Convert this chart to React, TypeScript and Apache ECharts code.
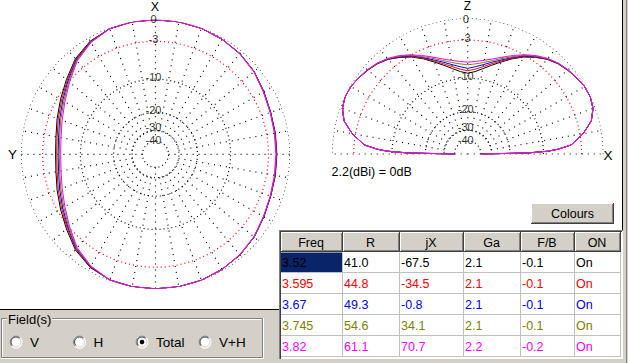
import React, { useEffect, useRef } from "react";
import * as echarts from "echarts";

// ---------- data ----------
const FREQS = ["3.52", "3.595", "3.67", "3.745", "3.82"];
const R_VALUES = [41.0, 44.8, 49.3, 54.6, 61.1];
const JX_VALUES = [-67.5, -34.5, -0.8, 34.1, 70.7];
const GA_VALUES = [2.1, 2.1, 2.1, 2.1, 2.2];
const FB_VALUES = [-0.1, -0.1, -0.1, -0.1, -0.2];
const ON_VALUES = ["On", "On", "On", "On", "On"];
const SERIES_COLORS = ["#000000", "#ff0000", "#0000ff", "#808000", "#ff00ff"];
const TABLE_HEADERS = ["Freq", "R", "jX", "Ga", "F/B", "ON"];

const RING_DB = [0, -3, -10, -20, -30, -40];
const RING_LABELS = ["0", "-3", "-10", "-20", "-30", "-40"];

// azimuth angles (deg, counter-clockwise from X at top)
const AZ_ANGLES = [0, 10, 20, 30, 40, 50, 60, 70, 80, 90, 100, 110, 120, 130, 140, 150, 160, 170, 180,
  190, 200, 210, 220, 230, 240, 250, 260, 270, 280, 290, 300, 310, 320, 330, 340, 350];
const AZ_352 = [0, 0, -0.1, -0.5, -1.3, -2.5, -3.5, -4.3, -4.9, -5.1, -4.9, -4.3, -3.5, -2.5, -1.3, -0.5, -0.1, 0, 0,
  0, -0.05, -0.2, -0.4, -0.75, -1.25, -1.6, -1.75, -1.8, -1.75, -1.6, -1.25, -0.75, -0.4, -0.2, -0.05, 0];
const AZ_3595 = [0, 0, -0.1, -0.55, -1.4, -2.65, -3.7, -4.5, -5.1, -5.3, -5.1, -4.5, -3.7, -2.65, -1.4, -0.55, -0.1, 0, 0,
  0, -0.05, -0.2, -0.4, -0.75, -1.25, -1.6, -1.7, -1.75, -1.7, -1.6, -1.25, -0.75, -0.4, -0.2, -0.05, 0];
const AZ_367 = [0, 0, -0.1, -0.6, -1.5, -2.8, -3.9, -4.75, -5.35, -5.55, -5.35, -4.75, -3.9, -2.8, -1.5, -0.6, -0.1, 0, 0,
  0, -0.05, -0.2, -0.4, -0.75, -1.25, -1.6, -1.75, -1.8, -1.75, -1.6, -1.25, -0.75, -0.4, -0.2, -0.05, 0];
const AZ_3745 = [0, 0, -0.1, -0.65, -1.6, -2.95, -4.1, -4.95, -5.55, -5.75, -5.55, -4.95, -4.1, -2.95, -1.6, -0.65, -0.1, 0, 0,
  0, -0.05, -0.2, -0.4, -0.75, -1.3, -1.65, -1.8, -1.85, -1.8, -1.65, -1.3, -0.75, -0.4, -0.2, -0.05, 0];
const AZ_382 = [0, 0, -0.1, -0.7, -1.7, -3.1, -4.3, -5.2, -5.8, -6.0, -5.8, -5.2, -4.3, -3.1, -1.7, -0.7, -0.1, 0, 0,
  0, -0.05, -0.2, -0.45, -0.8, -1.3, -1.65, -1.85, -1.9, -1.85, -1.65, -1.3, -0.8, -0.45, -0.2, -0.05, 0];

// elevation angles (deg, from X at right, counter-clockwise)
const EL_ANGLES = [0, 1, 2, 3, 5, 10, 15, 20, 25, 30, 35, 40, 45, 50, 55, 60, 65, 70, 75, 80, 85, 90,
  95, 100, 105, 110, 115, 120, 125, 130, 135, 140, 145, 150, 155, 160, 165, 170, 175, 177, 178, 179, 180];
const EL_352 = [-40, -14, -9, -7, -4.6, -2.5, -1.0, -0.3, -0.05, -0.1, -0.37, -0.68, -1.05, -1.6, -2.4, -3.3, -4.4, -5.6, -6.7, -7.7, -8.5, -8.9,
  -8.5, -7.7, -6.7, -5.6, -4.4, -3.3, -2.4, -1.6, -1.05, -0.68, -0.37, -0.1, -0.05, -0.3, -1.0, -2.5, -4.6, -7, -9, -14, -40];
const EL_3595 = [-40, -14, -9, -7, -4.6, -2.5, -1.0, -0.3, -0.05, -0.1, -0.36, -0.66, -1.03, -1.57, -2.35, -3.2, -4.3, -5.4, -6.4, -7.3, -8.0, -8.4,
  -8.0, -7.3, -6.4, -5.4, -4.3, -3.2, -2.35, -1.57, -1.03, -0.66, -0.36, -0.1, -0.05, -0.3, -1.0, -2.5, -4.6, -7, -9, -14, -40];
const EL_367 = [-40, -14, -9, -7, -4.6, -2.5, -1.0, -0.3, -0.05, -0.1, -0.35, -0.64, -1.0, -1.53, -2.3, -3.1, -4.15, -5.2, -6.1, -6.9, -7.5, -7.9,
  -7.5, -6.9, -6.1, -5.2, -4.15, -3.1, -2.3, -1.53, -1.0, -0.64, -0.35, -0.1, -0.05, -0.3, -1.0, -2.5, -4.6, -7, -9, -14, -40];
const EL_3745 = [-40, -14, -9, -7, -4.6, -2.5, -1.0, -0.3, -0.05, -0.1, -0.34, -0.62, -0.97, -1.5, -2.2, -3.0, -4.0, -4.95, -5.8, -6.5, -6.95, -7.2,
  -6.95, -6.5, -5.8, -4.95, -4.0, -3.0, -2.2, -1.5, -0.97, -0.62, -0.34, -0.1, -0.05, -0.3, -1.0, -2.5, -4.6, -7, -9, -14, -40];
const EL_382 = [-40, -14, -9, -7, -4.6, -2.5, -1.0, -0.3, -0.05, -0.1, -0.33, -0.6, -0.95, -1.45, -2.1, -2.9, -3.8, -4.7, -5.5, -6.1, -6.5, -6.7,
  -6.5, -6.1, -5.5, -4.7, -3.8, -2.9, -2.1, -1.45, -0.95, -0.6, -0.33, -0.1, -0.05, -0.3, -1.0, -2.5, -4.6, -7, -9, -14, -40];

const AZ_SERIES = [AZ_352, AZ_3595, AZ_367, AZ_3745, AZ_382];
const EL_SERIES = [EL_352, EL_3595, EL_367, EL_3745, EL_382];

const FIELD_OPTIONS = ["V", "H", "Total", "V+H"];
const FIELD_SELECTED = "Total";

// ---------- helpers ----------
const FONT = '"Liberation Sans", Arial, sans-serif';
// ARRL log scale: each 2 dB -> factor 0.89
const toR = (db: number) => Math.pow(0.89, -db / 2);
// vertical nudge of each ring label (styling), per plot
const LABEL_DY_AZ = [-0.5, -2.5, -2.5, -2.5, -3.8, -1.2];
const LABEL_DY_EL = [0.8, -2.5, -2.5, -2.5, -3.8, -1.2];

const range = (a: number, b: number, s: number) => {
  const out: number[] = [];
  for (let v = a; v <= b + 1e-9; v += s) out.push(v);
  return out;
};

function ringSeries(p: number, db: number, maxA: number) {
  return {
    type: "line", coordinateSystem: "polar", polarIndex: p, symbol: "none", silent: true, z: 1,
    data: range(0, maxA, 2).map((a) => [toR(db), a]),
    lineStyle: { color: db === -3 ? "#ff0000" : "#000000", width: 1.2, type: [1, 3] },
  };
}
function spokeSeries(p: number, a: number, r0: number) {
  return {
    type: "line", coordinateSystem: "polar", polarIndex: p, symbol: "none", silent: true, z: 1,
    data: [[r0, a], [1, a]],
    lineStyle: { color: "#000000", width: 1.2, type: [1, 5] },
  };
}
function labelSeries(p: number, angle: number, dys: number[]) {
  return {
    type: "scatter", coordinateSystem: "polar", polarIndex: p, symbolSize: 1, silent: true, z: 5,
    itemStyle: { color: "rgba(0,0,0,0)" },
    data: RING_DB.map((db, i) => ({
      name: RING_LABELS[i], value: [toR(db), angle],
      label: { offset: [-2, dys[i]] },
    })),
    label: {
      show: true, position: "inside", formatter: "{b}", color: "#000", fontSize: 11, fontFamily: FONT,
      lineHeight: 9,
    },
  };
}

const L = (x1: number, y1: number, x2: number, y2: number, stroke: string, z = 10) => ({
  type: "line", z, silent: true, shape: { x1, y1, x2, y2 }, style: { stroke, lineWidth: 1 },
});
const RC = (x: number, y: number, width: number, height: number, fill: string, z = 10) => ({
  type: "rect", z, silent: true, shape: { x, y, width, height }, style: { fill },
});
const TX = (text: string, x: number, y: number, fill: string, size: number, align = "left", z = 12, lh?: number) => ({
  type: "text", z, silent: true,
  style: {
    text, x, y, fill, fontSize: size, fontFamily: FONT,
    align, textAlign: align, verticalAlign: "middle", textVerticalAlign: "middle",
    ...(lh ? { lineHeight: lh } : {}),
  },
});

function buildGraphic() {
  const g: any[] = [];
  // white plot areas
  g.push(RC(0, 0, 622, 230, "#ffffff", -1));
  g.push(RC(0, 230, 280, 79, "#ffffff", -1));
  g.push(L(622.5, 0, 622.5, 231, "#000000"));
  g.push(L(626.5, 0, 626.5, 363, "#808080"));
  g.push(L(0, 309.5, 280, 309.5, "#000000"));

  // axis letters and reference text
  g.push(TX("X", 155, 6.5, "#000", 12.5, "center", 12, 10));
  g.push(TX("Y", 12.5, 154, "#000", 13.5, "center", 12, 10));
  g.push(TX("Z", 467.5, 6.3, "#000", 12, "center", 12, 10));
  g.push(TX("X", 608, 155, "#000", 13.5, "center", 12, 10));
  g.push(TX("2.2(dBi) = 0dB", 331.5, 172, "#000", 12.5, "left"));

  // Colours button
  const bx = 531, by = 203, bw = 83, bh = 21;
  g.push(RC(bx, by, bw, bh, "#d4d0c8"));
  g.push(L(bx, by + 0.5, bx + bw, by + 0.5, "#ffffff", 11));
  g.push(L(bx + 0.5, by, bx + 0.5, by + bh, "#ffffff", 11));
  g.push(L(bx, by + bh - 0.5, bx + bw, by + bh - 0.5, "#404040", 11));
  g.push(L(bx + bw - 0.5, by, bx + bw - 0.5, by + bh, "#404040", 11));
  g.push(L(bx + 1, by + bh - 1.5, bx + bw - 1, by + bh - 1.5, "#808080", 11));
  g.push(L(bx + bw - 1.5, by + 1, bx + bw - 1.5, by + bh - 1, "#808080", 11));
  g.push(TX("Colours", bx + bw / 2, by + bh / 2, "#000", 12.5, "center"));

  // table
  const COL_X = [281, 343, 400, 464, 521, 575, 621];
  const headTop = 232, headH = 20;
  const rowTop = 252.5, rowH = 20.9;
  g.push(RC(279, 230, 344, 129, "#ffffff", 9));
  g.push(L(279.5, 230, 279.5, 359, "#808080"));
  g.push(L(279, 230.5, 623, 230.5, "#808080"));
  g.push(L(280.5, 231, 280.5, 359, "#404040"));
  g.push(L(280, 231.5, 622, 231.5, "#404040"));
  TABLE_HEADERS.forEach((h, j) => {
    const x0 = COL_X[j], x1 = COL_X[j + 1];
    g.push(RC(x0, headTop, x1 - x0, headH, "#d4d0c8"));
    g.push(L(x0, headTop + 0.5, x1 - 1, headTop + 0.5, "#ffffff", 11));
    g.push(L(x0 + 0.5, headTop, x0 + 0.5, headTop + headH - 1, "#ffffff", 11));
    g.push(L(x1 - 1.5, headTop + 1, x1 - 1.5, headTop + headH - 1, "#808080", 11));
    g.push(L(x0 + 1, headTop + headH - 1.5, x1 - 1, headTop + headH - 1.5, "#808080", 11));
    g.push(L(x1 - 0.5, headTop, x1 - 0.5, headTop + headH, "#404040", 11));
    g.push(L(x0, headTop + headH - 0.5, x1, headTop + headH - 0.5, "#404040", 11));
    g.push(TX(h, (x0 + x1) / 2 - 1, headTop + headH / 2 + 0.5, "#000", 12.5, "center"));
  });
  // selected cell
  g.push(RC(COL_X[0], rowTop, COL_X[1] - COL_X[0] - 1, rowH - 0.5, "#0a246a", 10));
  // grid lines
  for (let i = 1; i <= FREQS.length; i++) {
    const y = Math.round(rowTop + rowH * i) - 0.5;
    g.push(L(COL_X[0], y, COL_X[6], y, "#c0c0c0", 10));
  }
  for (let j = 1; j < COL_X.length; j++) {
    const x = COL_X[j] - 0.5;
    g.push(L(x, rowTop, x, rowTop + rowH * FREQS.length, "#c0c0c0", 10));
  }
  const rows = FREQS.map((f, i) => [
    f, R_VALUES[i].toFixed(1), JX_VALUES[i].toFixed(1), GA_VALUES[i].toFixed(1), FB_VALUES[i].toFixed(1), ON_VALUES[i],
  ]);
  rows.forEach((cells, i) => {
    const cy = rowTop + rowH * i + rowH / 2;
    cells.forEach((c, j) => {
      g.push(TX(c, COL_X[j] + 1, cy, SERIES_COLORS[i], 12.5, "left"));
    });
  });

  // Field(s) group box
  g.push(L(1.5, 318.5, 262.5, 318.5, "#808080"));
  g.push(L(1.5, 318.5, 1.5, 357.5, "#808080"));
  g.push(L(1.5, 357.5, 262.5, 357.5, "#808080"));
  g.push(L(262.5, 318.5, 262.5, 357.5, "#808080"));
  g.push(L(2.5, 319.5, 261.5, 319.5, "#ffffff"));
  g.push(L(2.5, 319.5, 2.5, 356.5, "#ffffff"));
  g.push(L(1, 358.5, 263.5, 358.5, "#ffffff"));
  g.push(L(263.5, 318, 263.5, 359, "#ffffff"));
  g.push({
    type: "text", z: 12, silent: true,
    style: {
      text: "Field(s)", x: 7, y: 319, fill: "#000", fontSize: 13, fontFamily: FONT,
      verticalAlign: "middle", textVerticalAlign: "middle", backgroundColor: "#d4d0c8", padding: [0, 1, 0, 1],
    },
  });
  const RADIO_X = [16, 79.5, 142, 205];
  const cyR = 342;
  FIELD_OPTIONS.forEach((opt, i) => {
    const cx = RADIO_X[i];
    g.push({ type: "circle", z: 10, silent: true, shape: { cx, cy: cyR, r: 6.5 }, style: { fill: "#ffffff" } });
    g.push({ type: "arc", z: 11, silent: true, shape: { cx, cy: cyR, r: 6, startAngle: Math.PI * 0.75, endAngle: Math.PI * 1.75, clockwise: true }, style: { stroke: "#808080", lineWidth: 1, fill: "none" } });
    g.push({ type: "arc", z: 11, silent: true, shape: { cx, cy: cyR, r: 5, startAngle: Math.PI * 0.75, endAngle: Math.PI * 1.75, clockwise: true }, style: { stroke: "#404040", lineWidth: 1, fill: "none" } });
    g.push({ type: "arc", z: 11, silent: true, shape: { cx, cy: cyR, r: 5, startAngle: Math.PI * 1.75, endAngle: Math.PI * 2.75, clockwise: true }, style: { stroke: "#d4d0c8", lineWidth: 1, fill: "none" } });
    if (opt === FIELD_SELECTED) {
      g.push({ type: "circle", z: 12, silent: true, shape: { cx, cy: cyR, r: 2.3 }, style: { fill: "#000000" } });
    }
    g.push(TX(opt, cx + 14, cyR, "#000", 13.5, "left"));
  });
  return g;
}

function buildOption() {
  const series: any[] = [];
  // azimuth grid (polar 0)
  RING_DB.forEach((db) => series.push(ringSeries(0, db, 360)));
  range(0, 350, 10).forEach((a) => series.push(spokeSeries(0, a, a % 90 === 0 ? toR(-40) : toR(-30))));
  // elevation grid (polar 1)
  RING_DB.forEach((db) => series.push(ringSeries(1, db, 180)));
  range(0, 180, 10).forEach((a) => series.push(spokeSeries(1, a, a === 0 || a === 180 ? 0 : toR(-30))));
  series.push(labelSeries(0, 0, LABEL_DY_AZ));
  series.push(labelSeries(1, 90, LABEL_DY_EL));

  AZ_SERIES.forEach((vals, i) => {
    series.push({
      type: "line", coordinateSystem: "polar", polarIndex: 0, symbol: "none", silent: true, z: 3,
      name: FREQS[i],
      data: [...AZ_ANGLES.map((a, k) => [toR(vals[k]), a]), [toR(vals[0]), 360]],
      lineStyle: { color: SERIES_COLORS[i], width: 1 },
    });
  });
  EL_SERIES.forEach((vals, i) => {
    series.push({
      type: "line", coordinateSystem: "polar", polarIndex: 1, symbol: "none", silent: true, z: 3,
      name: FREQS[i] + " el",
      data: EL_ANGLES.map((a, k) => [toR(vals[k]), a]),
      lineStyle: { color: SERIES_COLORS[i], width: 1 },
    });
  });

  return {
    animation: false,
    backgroundColor: "#d4d0c8",
    polar: [
      { center: [155.5, 154.3], radius: 134.5 },
      { center: [467.7, 154], radius: 135.7 },
    ],
    angleAxis: [
      { polarIndex: 0, type: "value", min: 0, max: 360, startAngle: 90, clockwise: false, show: false },
      { polarIndex: 1, type: "value", min: 0, max: 360, startAngle: 0, clockwise: false, show: false },
    ],
    radiusAxis: [
      { polarIndex: 0, type: "value", min: 0, max: 1, show: false },
      { polarIndex: 1, type: "value", min: 0, max: 1, show: false },
    ],
    series,
    graphic: { elements: buildGraphic() },
  };
}

export default function App() {
  const ref = useRef<HTMLDivElement>(null);
  useEffect(() => {
    const chart = echarts.init(ref.current!, null, { renderer: "svg" });
    chart.setOption(buildOption() as any);
    return () => chart.dispose();
  }, []);
  return (
    <div
      ref={ref}
      style={{ position: "fixed", left: 0, top: 0, width: 628, height: 363 }}
    />
  );
}
